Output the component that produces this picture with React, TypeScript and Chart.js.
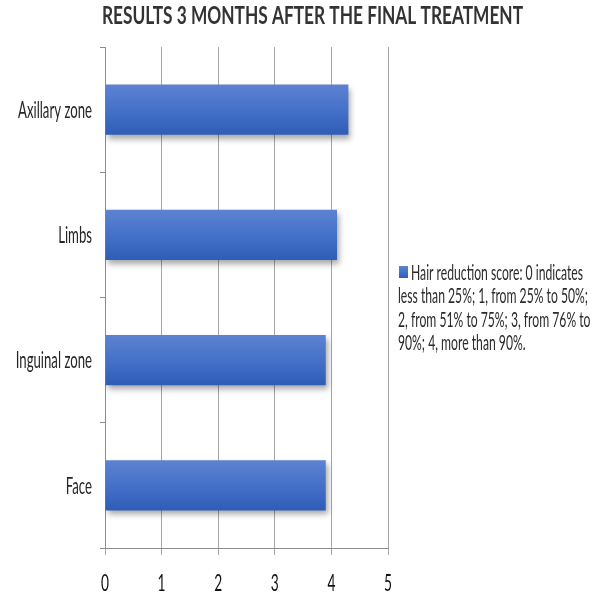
import { useEffect, useRef } from 'react';
import Chart from 'chart.js/auto';

const TITLE = 'RESULTS 3 MONTHS AFTER THE FINAL TREATMENT';
const categories = ['Axillary zone', 'Limbs', 'Inguinal zone', 'Face'];
const scores = [4.3, 4.1, 3.9, 3.9];
const xTicks = [0, 1, 2, 3, 4, 5];
const legendLines = [
  'Hair reduction score: 0 indicates',
  'less than 25%; 1, from 25% to 50%;',
  '2, from 51% to 75%; 3, from 76% to',
  '90%; 4, more than 90%.',
];

const FONT = 'Lato, "Open Sans", sans-serif';
const CAP = 0.72; // cap height / em for Lato

const barGradient = (ctx, top, bottom) => {
  const g = ctx.createLinearGradient(0, top, 0, bottom);
  g.addColorStop(0, '#5d82d1');
  g.addColorStop(0.5, '#4571c9');
  g.addColorStop(1, '#2f5cb6');
  return g;
};

// the source picture is squeezed sideways, so text is drawn narrowed
const fitScale = (ctx, text, font, width) => {
  ctx.save();
  ctx.font = font;
  const w = ctx.measureText(text).width;
  ctx.restore();
  return width / w;
};

const drawText = (ctx, text, x, capMid, size, weight, sx, align, color) => {
  ctx.save();
  ctx.font = `${weight} ${size}px ${FONT}`;
  ctx.fillStyle = color;
  ctx.textBaseline = 'alphabetic';
  ctx.textAlign = align;
  ctx.translate(x, capMid + (size * CAP) / 2);
  ctx.scale(sx, 1);
  ctx.fillText(text, 0, 0);
  ctx.restore();
};

const extras = {
  id: 'extras',
  beforeDatasetsDraw(chart) {
    const ctx = chart.ctx;
    chart.getDatasetMeta(0).data.forEach((bar) => {
      const { y, height } = bar.getProps(['y', 'height'], true);
      if (Number.isFinite(y) && Number.isFinite(height)) {
        bar.options = Object.assign({}, bar.options, {
          backgroundColor: barGradient(ctx, y - height / 2, y + height / 2),
        });
      }
    });
    ctx.save();
    ctx.shadowColor = 'rgba(0,0,0,0.35)';
    ctx.shadowBlur = 6;
    ctx.shadowOffsetX = 2;
    ctx.shadowOffsetY = 4;
  },
  afterDatasetsDraw(chart) {
    chart.ctx.restore();
  },
  afterDraw(chart) {
    const ctx = chart.ctx;
    const { x: xs, y: ys } = chart.scales;

    // title
    const titleSize = 25;
    const tsx = fitScale(ctx, TITLE, `bold ${titleSize}px ${FONT}`, 421);
    drawText(ctx, TITLE, 102, 15, titleSize, 'bold', tsx, 'left', '#333333');

    // category labels
    const labelSize = 23;
    const lsx = fitScale(ctx, categories[0], `normal ${labelSize}px ${FONT}`, 74);
    ys.ticks.forEach((t, i) => {
      drawText(ctx, chart.data.labels[t.value], 92, ys.getPixelForTick(i), labelSize, 'normal', lsx, 'right', '#262626');
    });

    // value labels
    xs.ticks.forEach((t) => {
      drawText(ctx, String(t.value), xs.getPixelForValue(t.value), 582, 24, 'normal', lsx, 'center', '#111111');
    });

    // legend
    const legSize = 21;
    const gsx = fitScale(ctx, legendLines[1], `normal ${legSize}px ${FONT}`, 190);
    const x0 = 399;
    const y0 = 272;
    const step = 23.5;
    ctx.save();
    ctx.fillStyle = barGradient(ctx, y0 - 6, y0 + 6);
    ctx.fillRect(x0, y0 - 6, 9, 12);
    ctx.restore();
    legendLines.forEach((line, i) => {
      drawText(ctx, line, i === 0 ? x0 + 12 : x0 - 1, y0 + i * step, legSize, 'normal', gsx, 'left', '#2b2b2b');
    });
  },
};

const App = () => {
  const chartRef = useRef(null);
  const chartInstance = useRef(null);
  useEffect(() => {
    if (chartInstance.current) {
      chartInstance.current.destroy();
    }
    const ctx = chartRef.current.getContext('2d');

    chartInstance.current = new Chart(ctx, {
      type: 'bar',
      data: {
        labels: categories,
        datasets: [{
          label: legendLines.join(' '),
          data: scores,
          backgroundColor: '#4571c9',
          borderWidth: 0,
          barPercentage: 0.4,
          categoryPercentage: 1,
        }]
      },
      options: {
        indexAxis: 'y',
        responsive: true,
        maintainAspectRatio: false,
        animation: false,
        layout: { padding: { left: 0, right: 212, top: 47, bottom: 0 } },
        plugins: {
          legend: { display: false },
          title: { display: false },
          tooltip: { enabled: false },
        },
        scales: {
          x: {
            min: 0,
            max: 5,
            afterFit: (s) => { s.height = 52; },
            afterBuildTicks: (s) => { s.ticks = xTicks.map((v) => ({ value: v })); },
            grid: { color: '#a6a6a6', lineWidth: 1, tickLength: 7, drawTicks: true },
            border: { color: '#8c8c8c', width: 1 },
            ticks: { display: false },
          },
          y: {
            afterFit: (s) => { s.width = 105; },
            grid: { drawOnChartArea: false, tickLength: 5, color: '#8c8c8c', offset: true },
            border: { color: '#8c8c8c', width: 1 },
            ticks: { display: false },
          },
        },
      },
      plugins: [extras],
    });

    return () => {
      if (chartInstance.current) {
        chartInstance.current.destroy();
      }
    };
  }, []);
  return (
    <div style={{ position: 'fixed', left: 0, top: 0, width: 600, height: 600, background: '#fff' }}>
      <canvas ref={chartRef}></canvas>
    </div>
  );
};

export default App;
